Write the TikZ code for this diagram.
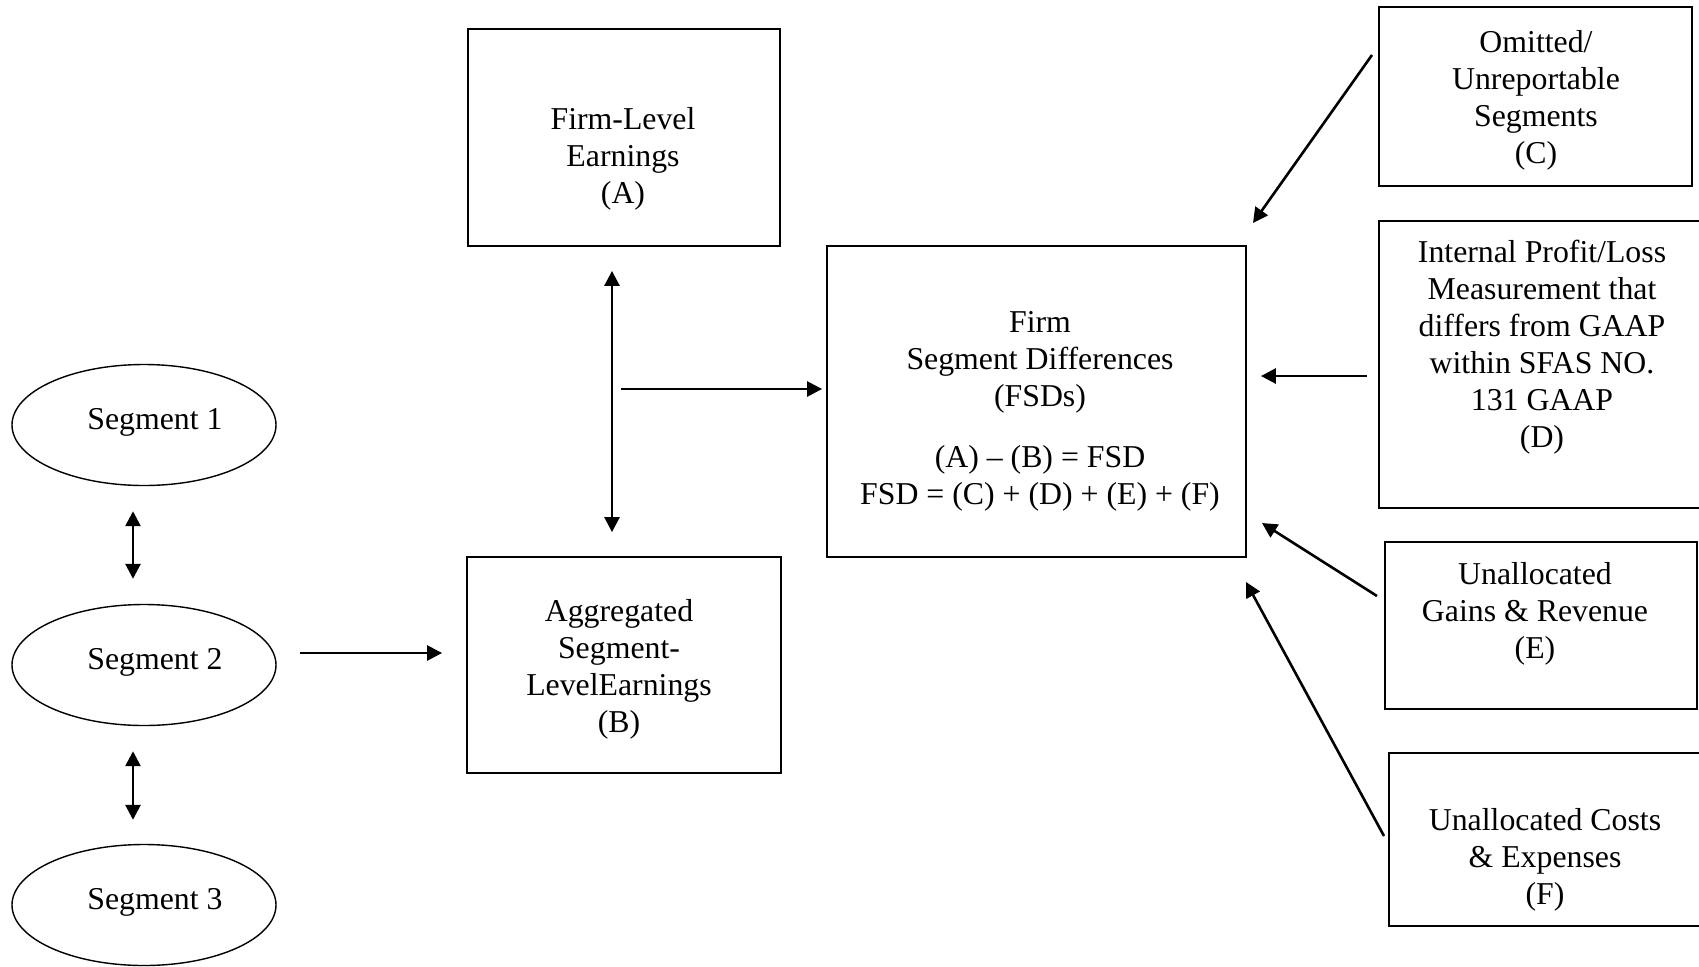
\documentclass[tikz,border=0pt]{standalone}
\usepackage{fontspec}
\setmainfont{Liberation Serif}
\usetikzlibrary{arrows.meta,shapes.geometric}
\tikzset{box/.style={draw,line width=.9pt,inner sep=0pt},seg/.style={draw,ellipse,line width=.7pt,minimum width=132pt,minimum height=60.5pt,inner sep=0pt},lbl/.style={align=center,inner sep=0pt,font=\fontsize{15.9}{18.5}\selectfont},link/.style={-{Triangle[length=7.5pt,width=7.5pt]},line width=1.3pt},twoway/.style={{Triangle[length=7.5pt,width=7.5pt]}-{Triangle[length=7.5pt,width=7.5pt]},line width=1.3pt}}
\begin{document}
\begin{tikzpicture}[x=.5pt,y=-.5pt]
 \useasboundingbox (0,0) rectangle (1699,966);
 \node[seg] (seg1) at (144,425) {}; \node[lbl] (seg1txt) at (155,422) {Segment 1};
 \node[seg] (seg2) at (144,665) {}; \node[lbl] (seg2txt) at (155,662) {Segment 2};
 \node[seg] (seg3) at (144,905) {}; \node[lbl] (seg3txt) at (155,902) {Segment 3};
 \node[box,minimum width=156pt,minimum height=108.5pt] (firm) at (624,137.5) {}; \node[lbl] (firmtxt) at (623,159) {Firm-Level\\Earnings\\(A)};
 \node[box,minimum width=157pt,minimum height=108pt] (aggr) at (624,665) {}; \node[lbl] (aggrtxt) at (619,669) {Aggregated\\Segment-\\LevelEarnings\\(B)};
 \node[box,minimum width=209.5pt,minimum height=155.5pt] (fsd) at (1036.5,401.5) {};
 \node[lbl] (fsdtxt) at (1040,411.5) {Firm\\Segment Differences\\(FSDs)\\[11.75pt](A) -- (B) = FSD\\FSD = (C) + (D) + (E) + (F)};
 \node[box,minimum width=156.5pt,minimum height=89.5pt] (omit) at (1535.5,96.5) {}; \node[lbl] (omittxt) at (1536,100) {Omitted/\\Unreportable\\Segments\\(C)};
 \node[box,minimum width=170.5pt,minimum height=143.5pt] (inter) at (1549.5,364.5) {}; \node[lbl] (intertxt) at (1542,347) {Internal Profit/Loss\\Measurement that\\differs from GAAP\\within SFAS NO.\\131 GAAP\\(D)};
 \node[box,minimum width=156pt,minimum height=83.5pt] (gains) at (1541,625.5) {}; \node[lbl] (gainstxt) at (1535,614) {Unallocated\\Gains \& Revenue\\(E)};
 \node[box,minimum width=165.5pt,minimum height=86.5pt] (costs) at (1554.5,839.5) {}; \node[lbl] (coststxt) at (1545,860) {Unallocated Costs\\\& Expenses\\(F)};
 \draw[twoway,shorten <=12.5pt,shorten >=12.5pt] ([xshift=-5.5pt]seg1.south) -- ([xshift=-5.5pt]seg2.north);
 \draw[twoway,shorten <=12.5pt,shorten >=12pt] ([xshift=-5.5pt]seg2.south) -- ([xshift=-5.5pt]seg3.north);
 \draw[link,shorten <=11.5pt,shorten >=12pt] ([yshift=6pt]seg2.east) -- ([yshift=6pt]seg2.east -| aggr.west);
 \draw[twoway,shorten <=12pt,shorten >=12pt] ([xshift=-6pt]firm.south) -- ([xshift=-6pt]aggr.north);
 \coordinate (join) at (621,389); \draw[link,shorten >=2pt] (join) -- (join -| fsd.west);
 \coordinate (cfrom) at (1372,55); \coordinate (cto) at (1253,223); \draw[link] (cfrom) -- (cto);
 \coordinate (dfrom) at (1367,376); \draw[link] (dfrom) -- ([xshift=7pt]dfrom -| fsd.east);
 \coordinate (efrom) at (1377,596); \coordinate (eto) at (1262,523); \draw[link] (efrom) -- (eto);
 \coordinate (ffrom) at (1384,836); \coordinate (fto) at (1246,582); \draw[link] (ffrom) -- (fto);
\end{tikzpicture}
\end{document}
